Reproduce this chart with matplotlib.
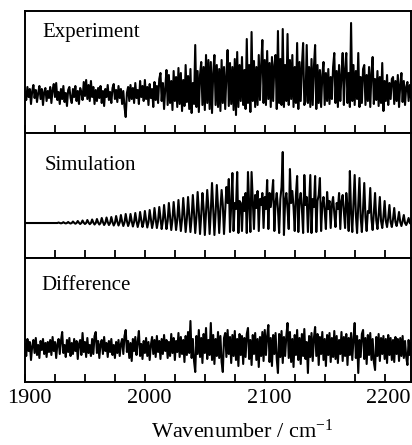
######### import the necessary libraries
import matplotlib
matplotlib.use("Agg")
import matplotlib.pyplot as plt
import matplotlib.transforms as mtransforms
from matplotlib.ticker import MultipleLocator
import numpy as np

plt.rcParams["font.family"] = ["Liberation Serif", "DejaVu Serif"]
plt.rcParams["mathtext.fontset"] = "custom"
plt.rcParams["mathtext.rm"] = "Liberation Serif"
plt.rcParams["mathtext.it"] = "Liberation Serif:italic"

# spectra, one sample per cm-1 starting at 1900 cm-1
x_start = 1900
x_stop = 2222
tick_labels = [1900, 2000, 2100, 2200]
panel_names = ["Experiment", "Simulation", "Difference"]

experiment = [
    3, -5, 8, -2, 6, -9, 4, 10, -3, 5, -7, 2, 9, -4, 6, -10, 3, 7, -6, 4,
    -3, 8, -8, 5, 11, -2, 12, -5, 3, -9, 6, -4, 9, -7, 2, -11, 5, 8, -3, -8,
    6, -2, 9, -6, 4, -9, 7, 3, -5, 13, -1, 15, -4, 10, -6, 14, -2, 8, -9, 5,
    -6, 7, -3, 9, -8, 4, -11, 6, -2, 10, -5, 3, -8, 7, 11, -4, 5, -7, 9, -3,
    6, -9, 4, -12, -22, 2, 8, -6, 10, -4, 7, -8, 12, -3, 5, -9, 14, -2, 9, -6,
    15, -4, 8, -10, 11, -3, 6, -12, 13, -5, 9, -8, 16, 22, -6, 12, -14, 7, 25, -10,
    20, -8, 14, -15, 24, -6, 18, -12, 27, -9, 22, -16, 15, -11, 30, -7, 19, -14, 26, -18,
    12, -9, 50, -12, 24, -17, 20, 33, -10, 28, -15, 40, -8, 35, -14, 33, -18, 22, 40, -10,
    30, -12, 26, -16, 35, -8, 28, -14, 20, 45, -11, 32, -9, 28, -15, 36, -20, 43, -12, 30,
    -6, 38, -10, 25, -14, 56, -8, 30, -17, 63, -6, 34, -12, 28, -10, 40, -5, 30, 55, -8,
    35, -10, 44, -4, 32, -12, 38, -6, 30, 40, -14, 64, -8, 36, -10, 66, -12, 30, -6, 61,
    -10, 35, -4, 40, -12, 28, -8, 52, -14, 33, -6, 30, 52, -10, -6, 50, -8, 28, -12, 36,
    -10, 28, 50, -14, 30, -8, 25, -12, 20, 33, -10, 22, -6, 26, -9, 18, -4, 28, 42, -8,
    24, -12, 30, -6, 20, 42, -10, 26, 42, -8, 22, -12, 72, -6, 30, -10, 24, -4, 42, -12,
    18, -8, 26, 30, -10, 20, -6, 28, -12, 22, 38, -9, 16, -5, 24, -11, 18, -8, 32, -16,
    14, -6, 20, -10, 12, -4, 16, 18, -9, 14, -6, 20, -12, 10, 22, -7, 14, -10, 8, 13,
    -6, 10, -3,
]

simulation = [
    0, 0, 0, 0, 0, 0, 0, 0, 0, 0, 0, 0, 0, 0, 0, 0, 0, 0, 0, 0,
    0, 0, 0, 0, 0, 0, 0, 0, 0.5, 0, -0.3, 0, 0.8, 0, -0.4, 0, 1, 0, -0.5, 0,
    1.5, 0.2, -0.7, 0, 2, 0.3, -1, 0, 2.5, 0.3, -1, 0, 3, 0.5, -1.2, 0, 3.5, 0.5, -1.5, 0,
    4, 0.5, -1.5, 0, 5, 1, -2, 0, 5.5, 1, -2, 0, 6, 1, -2.5, 0, 7, 1.5, -2.5, 0.5,
    8, 1.5, -3, 0.5, 9, 2, -3, 0.5, 9, 2, -3.5, 1, 10, 2, -4, 1, 11, 3, -4, 1,
    12, 3, -4.5, 1, 13, 4, -5, 1, 15, 4, -5, 2, 16, 5, -6, 2, 18, 5, -6, 2,
    20, 6, -7, 3, 21, 7, -7, 3, 23, 6, -8, 4, 25, 8, -9, 4, 26, 9, -9, 5,
    28, 10, -10, 6, 31, 12, -11, 8, 30, 14, -12, 10, 33, 15, -11, 12, 40, 14, -12, 10,
    38, 16, -10, 14, 33, 18, -11, 12, 36, 20, 44, -9, 18, 50, -8, 20, 14, 51, -10, 22,
    20, -8, 26, 12, 30, -10, 51, 18, -9, 51, 22, -6, 28, 15, 32, -8, 24, 18, 30, -5,
    26, 14, 43, -6, 30, 16, 28, 43, -8, 20, 30, 14, -10, 24, 36, 71, -12, 22, 30, 14,
    -6, 54, 20, 32, 16, -8, 28, 47, -9, 22, 30, 14, -10, 48, 18, 26, -9, 20, 48, -10,
    24, 16, 47, -9, 22, 28, 45, -8, 18, 26, 12, -6, 31, 14, 22, -5, 18, 26, 10, -4,
    20, 14, 30, -6, 22, 28, 12, -5, 30, 16, -8, 52, 10, -9, 20, 48, 8, -10, 18, 45,
    6, -9, 14, 40, 6, -8, 12, 10, 35, 4, -7, 10, 30, 3, -6, 8, 26, 2, -5, 6,
    22, 2, -4, 5, 18, 1, -4, 4, 15, 1, -3, 3, 11, 1, -3, 2, 8, 0, -2, 1,
    5, 0, -1,
]

difference = [
    4, -8, 9, -3, 6, -12, 2, 8, -5, 10, -7, 3, -10, 7, -2, 9, -6, 5, -9, 6,
    -4, 8, -7, 11, -3, 6, -10, 4, 9, -6, 7, 16, -5, 3, -9, 8, -4, 10, -8, 5,
    -6, 9, -3, 7, -11, 4, 8, -7, 15, -4, 6, -9, 10, -5, 3, -8, 9, -6, 12, 16,
    -5, 7, -10, 4, 8, -6, 11, -3, 5, -9, 7, -4, 9, -7, 3, -10, 6, -5, 8, -8,
    4, 9, -6, 12, 18, -4, 7, -10, 5, -13, 9, -3, 11, -7, 6, 17, -8, 4, -11, 7,
    -5, 10, -8, 6, -12, 3, 11, -6, 8, -9, 12, -4, 7, -11, 9, -6, 13, -3, 8, -10,
    6, -8, 14, -5, 10, -12, 7, -4, 15, -9, 11, -6, 8, -14, 12, -7, 16, -5, 27, -10,
    9, -13, -24, 12, -6, 18, -9, 10, -15, 14, -5, 20, -11, 8, -7, 25, -12, 13, -16, 9,
    -8, 16, -10, 12, -14, -24, 10, 15, -9, 18, -6, 11, -15, 13, -8, 17, -12, 9, -18, 14,
    -7, 12, -16, 10, -9, 14, 20, -11, 8, -17, 13, -6, 15, -12, 9, -19, 11, -8, 16, -13,
    18, -7, 12, 23, -14, 10, -18, 13, -6, 15, -11, -25, 14, -9, 17, -15, 11, -8, 12, 25,
    -10, 16, -14, 9, -19, 13, -7, 18, -12, 10, -16, 14, -8, 19, -11, 6, -25, 12, -9, 15,
    -13, 10, 21, -8, 14, -17, 11, -6, 16, -12, 9, -18, 13, -7, 15, -14, 10, -9, 17, -11,
    12, -15, 8, -6, 16, -13, 11, -8, 14, -17, 10, -7, 15, -12, 9, 25, -10, 12, -25, 8,
    -9, 14, 18, -11, 10, -16, 13, -7, 15, -12, 9, -14, -22, 11, -8, 14, -13, 10, -6, 12,
    -11, 9, -15, 13, -7, 10, -12, 8, -14, 11, -6, 9, -13, 10, -8, 12, -10, 7, -9, -17,
    8, -7, 5,
]

series = [experiment, simulation, difference]
y_limits = [(-38, 84), (-35, 90), (-34, 90)]

# axes boxes in figure fractions: left, bottom, width, height
boxes = [
    [0.0607, 0.7011, 0.9369, 0.2742],
    [0.0607, 0.4202, 0.9369, 0.2809],
    [0.0607, 0.1416, 0.9369, 0.2786],
]
name_pos = [(0.102, 0.917), (0.109, 0.618), (0.100, 0.348)]

fig = plt.figure(figsize=(4.12, 4.45), dpi=100)

for k in range(3):
    ax = fig.add_axes(boxes[k])
    y = np.array(series[k], dtype=float)
    x = x_start + np.arange(len(y))
    ax.plot(x, y, color="black", lw=1.5)
    ax.set_xlim(x_start, x_stop)
    ax.set_ylim(*y_limits[k])
    ax.set_yticks([])
    ax.xaxis.set_major_locator(MultipleLocator(100))
    ax.xaxis.set_minor_locator(MultipleLocator(25))
    ax.tick_params(axis="x", which="both", direction="in", length=6, width=1.3,
                   top=False, bottom=True, labelsize=16, pad=5)
    for s in ax.spines.values():
        s.set_linewidth(1.4)
    if k < 2:
        ax.tick_params(axis="x", which="both", labelbottom=False)
    else:
        ax.set_xticks(tick_labels)
        shift = mtransforms.ScaledTranslation(4 / 100, 0, fig.dpi_scale_trans)
        for lab in ax.get_xticklabels():
            lab.set_transform(lab.get_transform() + shift)
    fig.text(name_pos[k][0], name_pos[k][1], panel_names[k], fontsize=15,
             ha="left", va="baseline")

fig.text(242 / 412, 1 - 431 / 445, "Wavenumber / cm$^{-1}$", fontsize=16,
         ha="center", va="center")

fig.savefig("out.png", dpi=100)
